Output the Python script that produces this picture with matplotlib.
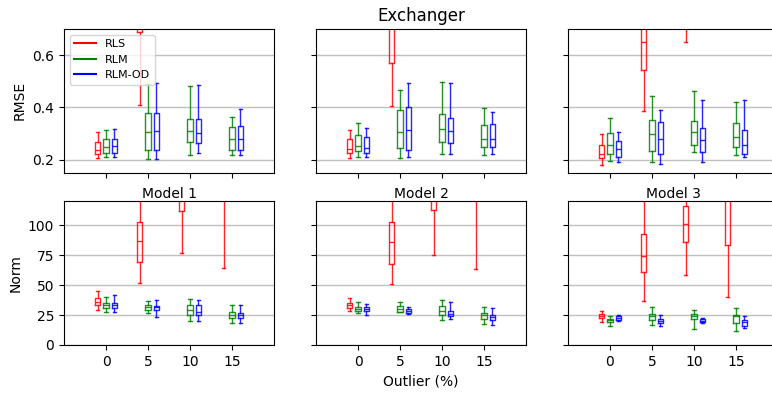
import numpy as np
import matplotlib
matplotlib.use("Agg")
import matplotlib.pyplot as plt
from matplotlib.lines import Line2D

outliers = [0, 5, 10, 15]
methods = ["RLS", "RLM", "RLM-OD"]
colors = ["red", "green", "blue"]
models = ["Model 1", "Model 2", "Model 3"]

# box stats per outlier level: [whislo, q1, med, q3, whishi]
rmse_m1_rls = [[0.205, 0.220, 0.236, 0.269, 0.305], [0.408, 0.688, 0.80, 0.95, 1.30],
               [0.75, 0.90, 1.00, 1.20, 1.50], [0.80, 0.95, 1.10, 1.30, 1.60]]
rmse_m1_rlm = [[0.211, 0.224, 0.249, 0.278, 0.312], [0.204, 0.237, 0.306, 0.380, 0.490],
               [0.218, 0.269, 0.309, 0.357, 0.481], [0.218, 0.238, 0.278, 0.325, 0.364]]
rmse_m1_od = [[0.211, 0.224, 0.251, 0.278, 0.316], [0.204, 0.237, 0.309, 0.380, 0.493],
              [0.226, 0.263, 0.302, 0.357, 0.484], [0.218, 0.238, 0.278, 0.328, 0.392]]

rmse_m2_rls = [[0.205, 0.227, 0.241, 0.277, 0.314], [0.406, 0.569, 0.78, 0.92, 1.25],
               [0.74, 0.88, 0.98, 1.15, 1.45], [0.80, 0.95, 1.08, 1.28, 1.55]]
rmse_m2_rlm = [[0.210, 0.232, 0.252, 0.293, 0.341], [0.206, 0.246, 0.306, 0.390, 0.467],
               [0.222, 0.266, 0.318, 0.373, 0.498], [0.219, 0.247, 0.278, 0.334, 0.396]]
rmse_m2_od = [[0.210, 0.226, 0.246, 0.287, 0.321], [0.210, 0.236, 0.312, 0.403, 0.493],
              [0.223, 0.263, 0.310, 0.361, 0.495], [0.222, 0.250, 0.278, 0.338, 0.383]]

rmse_m3_rls = [[0.181, 0.205, 0.223, 0.256, 0.298], [0.385, 0.543, 0.649, 0.78, 1.00],
               [0.649, 0.75, 0.85, 0.98, 1.20], [0.75, 0.88, 1.00, 1.15, 1.40]]
rmse_m3_rlm = [[0.194, 0.223, 0.254, 0.300, 0.360], [0.191, 0.233, 0.297, 0.351, 0.443],
               [0.228, 0.256, 0.306, 0.346, 0.461], [0.219, 0.249, 0.287, 0.341, 0.420]]
rmse_m3_od = [[0.190, 0.210, 0.241, 0.272, 0.307], [0.183, 0.220, 0.280, 0.344, 0.390],
              [0.192, 0.229, 0.274, 0.320, 0.429], [0.210, 0.220, 0.255, 0.315, 0.430]]

norm_m1_rls = [[29.6, 33.8, 36.3, 39.1, 45.3], [51.4, 69.0, 86.6, 102.8, 140.0],
               [76.8, 111.7, 130.0, 150.0, 190.0], [64.2, 125.0, 150.0, 180.0, 230.0]]
norm_m1_rlm = [[27.7, 31.0, 33.5, 35.2, 40.5], [26.5, 29.3, 31.6, 33.2, 36.6],
               [19.8, 25.4, 29.6, 33.2, 38.5], [18.2, 22.6, 25.4, 27.7, 33.2]]
norm_m1_od = [[27.7, 31.3, 33.2, 35.5, 41.9], [23.7, 29.3, 31.6, 33.0, 37.4],
              [19.8, 24.9, 27.7, 33.5, 37.4], [18.2, 22.6, 25.1, 26.8, 33.2]]

norm_m2_rls = [[28.8, 31.0, 33.2, 34.9, 39.4], [50.6, 67.9, 85.8, 102.8, 140.0],
               [75.4, 112.6, 130.0, 150.0, 190.0], [63.1, 125.0, 150.0, 180.0, 230.0]]
norm_m2_rlm = [[26.8, 28.2, 29.9, 32.1, 36.3], [27.4, 27.9, 29.9, 32.4, 35.8],
               [20.7, 24.9, 28.2, 32.4, 37.7], [17.9, 22.1, 25.4, 26.8, 31.8]]
norm_m2_od = [[25.4, 28.2, 29.9, 32.1, 34.4], [26.3, 26.8, 28.8, 30.4, 32.1],
              [22.1, 24.0, 26.0, 28.8, 35.8], [16.8, 21.2, 23.2, 25.4, 30.7]]

norm_m3_rls = [[19.0, 22.9, 24.6, 26.0, 28.2], [36.9, 60.6, 74.3, 93.0, 130.0],
               [58.7, 86.0, 101.4, 116.5, 130.0], [40.5, 83.2, 125.0, 150.0, 190.0]]
norm_m3_rlm = [[16.2, 19.3, 21.0, 21.8, 24.0], [17.0, 21.0, 24.0, 26.3, 31.8],
               [13.1, 21.5, 24.0, 25.7, 29.3], [11.5, 18.4, 24.0, 25.4, 30.7]]
norm_m3_od = [[19.8, 21.2, 22.6, 24.0, 24.9], [15.6, 18.7, 20.1, 21.8, 25.4],
              [18.4, 19.0, 20.4, 21.8, 22.3], [14.0, 16.2, 19.0, 21.2, 24.3]]

rmse_data = [[rmse_m1_rls, rmse_m1_rlm, rmse_m1_od],
             [rmse_m2_rls, rmse_m2_rlm, rmse_m2_od],
             [rmse_m3_rls, rmse_m3_rlm, rmse_m3_od]]
norm_data = [[norm_m1_rls, norm_m1_rlm, norm_m1_od],
             [norm_m2_rls, norm_m2_rlm, norm_m2_od],
             [norm_m3_rls, norm_m3_rlm, norm_m3_od]]


def draw(ax, model_data):
    for k, (stats, col) in enumerate(zip(model_data, colors)):
        bx = [dict(whislo=s[0], q1=s[1], med=s[2], q3=s[3], whishi=s[4]) for s in stats]
        pos = [x + (k - 1) for x in outliers]
        props = dict(color=col, linewidth=1.0, alpha=0.85)
        ax.bxp(bx, positions=pos, widths=0.6, capwidths=0.4, showfliers=False,
               manage_ticks=False, boxprops=props, whiskerprops=props,
               capprops=props, medianprops=props)
    ax.yaxis.grid(True, color="#c0c0c0", linewidth=1.0)
    ax.set_axisbelow(True)
    ax.set_xlim(-5, 20)
    ax.set_xticks(outliers)


fig, axes = plt.subplots(2, 3, figsize=(7.72, 3.95), dpi=100, sharey="row")
fig.subplots_adjust(left=64 / 772, right=778 / 772, bottom=1 - 345 / 395,
                    top=1 - 29 / 395, wspace=0.2, hspace=0.2)

for j in range(3):
    draw(axes[0, j], rmse_data[j])
    draw(axes[1, j], norm_data[j])
    axes[0, j].set_xticklabels([])
    axes[1, j].set_xticklabels([str(o) for o in outliers])
    axes[1, j].set_title(models[j], fontsize=10, pad=1)

axes[0, 0].set_ylim(0.15, 0.7)
axes[0, 0].set_yticks([0.2, 0.4, 0.6])
axes[1, 0].set_ylim(0, 120)
axes[1, 0].set_yticks([0, 25, 50, 75, 100])
axes[0, 0].set_ylabel("RMSE")
axes[1, 0].set_ylabel("Norm")
axes[0, 1].set_title("Exchanger", fontsize=12)
axes[1, 1].set_xlabel("Outlier (%)")

handles = [Line2D([], [], color=c, linewidth=1.5) for c in colors]
axes[0, 0].legend(handles, methods, loc="upper left", fontsize=8)

plt.savefig("out.png", dpi=100)
